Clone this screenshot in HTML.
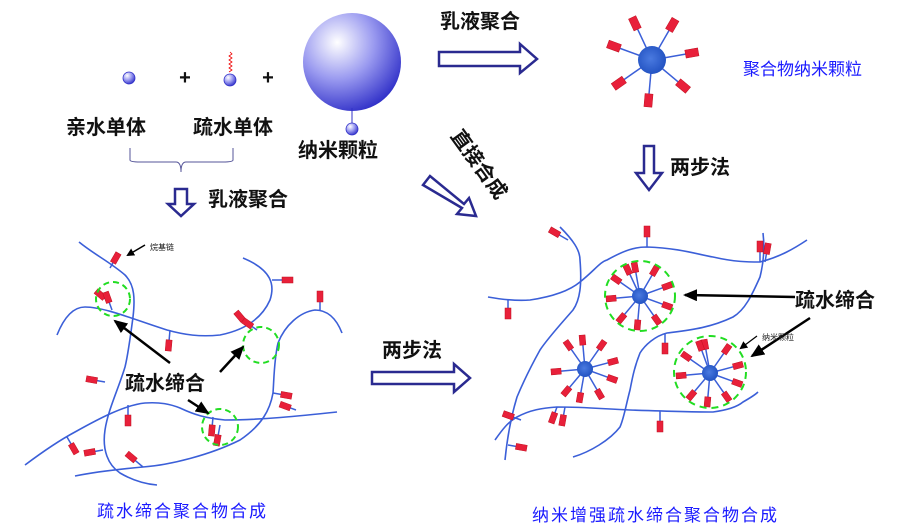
<!DOCTYPE html>
<html><head><meta charset="utf-8">
<style>
html,body{margin:0;padding:0;background:#fff;}
svg{display:block;}
text{font-family:"Liberation Sans","Noto Sans CJK SC",sans-serif;}
.t{font-size:20px;font-weight:bold;fill:#111;}
.b{font-size:17px;fill:#1a1aff;letter-spacing:2px;}
</style></head>
<body>
<svg id="s" width="898" height="530" viewBox="0 0 898 530" xmlns="http://www.w3.org/2000/svg">
<defs>
<radialGradient id="g" cx="0.35" cy="0.3" r="0.75">
<stop offset="0" stop-color="#ffffff"/><stop offset="0.5" stop-color="#9a9af0"/><stop offset="1" stop-color="#3030c8"/>
</radialGradient>
<radialGradient id="nb" cx="0.45" cy="0.45" r="0.6">
<stop offset="0" stop-color="#4a7ae0"/><stop offset="1" stop-color="#2050c0"/>
</radialGradient>
<marker id="ah" markerWidth="8" markerHeight="8" refX="6" refY="4" orient="auto" markerUnits="userSpaceOnUse"><path d="M0,0 L8,4 L0,8 z" fill="#000"/></marker>
<marker id="ah2" markerWidth="14" markerHeight="12" refX="12" refY="6" orient="auto" markerUnits="userSpaceOnUse"><path d="M0,0 L14,6 L0,12 z" fill="#000"/></marker>
</defs>

<circle cx="129" cy="78" r="6" fill="url(#g)" stroke="#3030c8" stroke-width="0.8"/>
<text x="185" y="84" class="t" text-anchor="middle" font-size="18">+</text>
<path d="M230,52 l2,2 -3,2 3,2 -3,2 3,2 -3,2 3,2 -3,2 3,2 -3,2" fill="none" stroke="#e00" stroke-width="0.8"/>
<circle cx="230" cy="80" r="6" fill="url(#g)" stroke="#3030c8" stroke-width="0.8"/>
<text x="268" y="84" class="t" text-anchor="middle" font-size="18">+</text>
<circle cx="352" cy="62" r="49" fill="url(#g)"/>
<line x1="352" y1="108" x2="352" y2="123" stroke="#3030c8" stroke-width="1"/>
<circle cx="352" cy="129" r="6" fill="url(#g)" stroke="#3030c8" stroke-width="0.8"/>
<text x="66" y="134" class="t">亲水单体</text>
<text x="193" y="134" class="t">疏水单体</text>
<text x="298" y="157" class="t">纳米颗粒</text>
<path d="M130,148 V160 Q130,162 140,162 H176 Q181,162 181,172 Q181,162 186,162 H223 Q233,162 233,160 V148" fill="none" stroke="#555599" stroke-width="1"/>
<path d="M175,189 H187 V204 H194 L181,216 L168,204 H175 Z" fill="#fff" stroke="#2a2a90" stroke-width="2.5"/>
<text x="208" y="206" class="t">乳液聚合</text>

<text x="440" y="28" class="t">乳液聚合</text>
<path d="M439,52 H520 V44 L537,59 L520,73 V66 H439 Z" fill="#fff" stroke="#2a2a90" stroke-width="2.5"/>
<g id="star0"></g>
<text x="743" y="75" class="b" style="letter-spacing:0">聚合物纳米颗粒</text>
<path d="M644,146 H654 V173 H662 L649,190 L636,173 H644 Z" fill="#fff" stroke="#2a2a90" stroke-width="2.5"/>
<text x="670" y="174" class="t">两步法</text>

<text x="0" y="0" class="t" transform="translate(450,136) rotate(54)">直接合成</text>
<path d="M423,185 L430,176 L464,204 L469,198 L476,216 L457,214 L462,208 Z" fill="#fff" stroke="#2a2a90" stroke-width="2.5"/>

<text x="382" y="357" class="t">两步法</text>
<path d="M372,372 H454 V364 L470,378 L454,392 V384 H372 Z" fill="#fff" stroke="#2a2a90" stroke-width="2.5"/>

<g fill="none" stroke="#3b5fd8" stroke-width="1.6">
<path d="M79,242 C95,255 110,262 125,275 C135,285 135,300 133,317 C130,340 128,355 125,367 C118,390 108,410 105,430 C102,450 108,465 120,473 C132,480 145,484 157,485"/>
<path d="M57,335 C65,315 75,307 85,307 C105,307 135,320 167,330 C185,335 200,337 220,335 C245,330 262,318 270,300 C275,285 272,270 243,258"/>
<path d="M342,333 C335,315 325,310 315,310 C300,312 285,325 278,343 C274,360 274,380 273,393 C270,410 262,425 240,440 C210,455 170,465 143,467 C110,470 90,473 75,476"/>
<path d="M25,465 C45,450 60,440 75,432 C100,418 125,405 145,403 C160,402 170,404 180,408 C195,415 205,418 225,420 C260,420 300,416 337,412"/>
</g>
<g id="leftstubs"></g>
<g fill="none" stroke="#22dd22" stroke-width="2" stroke-dasharray="6,4">
<circle cx="113" cy="299" r="17"/><circle cx="261" cy="345" r="18"/><circle cx="220" cy="427" r="18"/>
</g>
<g stroke="#000" stroke-width="2.5">
<line x1="170" y1="363" x2="115" y2="321" marker-end="url(#ah2)"/>
<line x1="220" y1="372" x2="243" y2="347" marker-end="url(#ah2)"/>
<line x1="188" y1="400" x2="208" y2="413" marker-end="url(#ah2)"/>
<line x1="145" y1="245" x2="128" y2="255" stroke-width="1.5" marker-end="url(#ah)"/>
</g>
<text x="150" y="250" font-size="8" fill="#111">烷基链</text>
<text x="125" y="390" class="t">疏水缔合</text>

<g fill="none" stroke="#3b5fd8" stroke-width="1.6">
<path d="M488,297 C505,300 518,301 530,300 C550,297 568,292 580,282 C595,270 600,262 607,260 C625,250 635,247 647,247 C680,248 700,255 713,257 C735,262 748,262 760,262 C780,257 795,248 807,240"/>
<path d="M560,227 C573,240 580,250 580,260 C582,285 580,300 573,310 C560,325 548,338 540,350 C530,368 522,385 517,397 C510,420 507,440 505,460"/>
<path d="M763,233 C765,250 763,265 760,277 C752,295 745,310 733,317 C710,328 690,330 667,333 C655,336 645,345 640,353 C634,368 632,380 630,390 C626,405 624,418 620,427 C610,440 590,452 573,457"/>
<path d="M495,440 C502,430 508,422 517,417 C530,410 542,408 557,407 C585,407 605,409 630,410 C660,411 690,412 713,412 C728,410 737,407 743,402 C750,398 755,395 758,392"/>
</g>
<g id="rightstubs"></g>
<g id="stars"></g>
<g fill="none" stroke="#22dd22" stroke-width="2" stroke-dasharray="7,5">
<circle cx="640" cy="296" r="35"/><circle cx="710" cy="372" r="36"/>
</g>
<g stroke="#000" stroke-width="2.5">
<line x1="795" y1="297" x2="685" y2="295" marker-end="url(#ah2)"/>
<line x1="810" y1="318" x2="752" y2="356" marker-end="url(#ah2)"/>
<line x1="757" y1="336" x2="741" y2="348" stroke-width="1.2" marker-end="url(#ah)"/>
</g>
<text x="795" y="307" class="t">疏水缔合</text>
<text x="762" y="340" font-size="8" fill="#222">纳米颗粒</text>

<text x="97" y="517" class="b">疏水缔合聚合物合成</text>
<text x="532" y="521" class="b">纳米增强疏水缔合聚合物合成</text>
</svg>
<script>
var NS="http://www.w3.org/2000/svg";
function el(p,t,a){var e=document.createElementNS(NS,t);for(var k in a)e.setAttribute(k,a[k]);p.appendChild(e);return e;}
function stub(g,x,y,ang,len,w,h){
  var r=ang*Math.PI/180,ex=x+Math.cos(r)*len,ey=y+Math.sin(r)*len;
  el(g,"line",{x1:x,y1:y,x2:ex,y2:ey,stroke:"#3b5fd8","stroke-width":1.5});
  var cx=ex+Math.cos(r)*h/2,cy=ey+Math.sin(r)*h/2;
  el(g,"rect",{x:cx-h/2,y:cy-w/2,width:h,height:w,fill:"#e8203a",stroke:"#c01020","stroke-width":0.5,transform:"rotate("+ang+" "+cx+" "+cy+")"});
}
function star(g,cx,cy,r,len,angs,w,h){
  angs.forEach(function(a){stub(g,cx,cy,a,len,w,h);});
  el(g,"circle",{cx:cx,cy:cy,r:r,fill:"url(#nb)"});
}
star(document.getElementById("star0"),652,60,14,34,[-115,-60,-10,40,95,145,200],8,13);
var S=document.getElementById("stars");
star(S,640,296,8,24,[-100,-60,-20,20,55,95,130,175,215,245],6,10);
star(S,585,369,8,24,[-95,-55,-15,20,60,100,130,175,235],6,10);
star(S,710,373,8,24,[-100,-55,-15,20,55,95,130,175,215,250],6,10);
var L=document.getElementById("leftstubs");
[[110,268,-60,6],[109,302,-140,6],[112,310,-110,8],[170,330,95,10],[272,280,0,10],[320,310,-90,8],[247,325,-130,6],[257,330,-145,6],[273,393,10,8],[296,410,-160,6],[128,405,90,10],[105,382,-170,8],[67,437,60,8],[103,450,170,8],[143,467,-140,10],[213,417,95,8],[220,425,100,10]].forEach(function(s){stub(L,s[0],s[1],s[2],s[3],6,11);});
var R=document.getElementById("rightstubs");
[[647,247,-90,10],[568,240,-150,10],[508,300,90,8],[760,262,-90,10],[765,262,-80,8],[557,407,110,6],[565,407,100,8],[660,411,90,10],[521,420,-160,8],[508,445,10,8],[665,333,90,10]].forEach(function(s){stub(R,s[0],s[1],s[2],s[3],6,11);});
</script>
</body></html>
